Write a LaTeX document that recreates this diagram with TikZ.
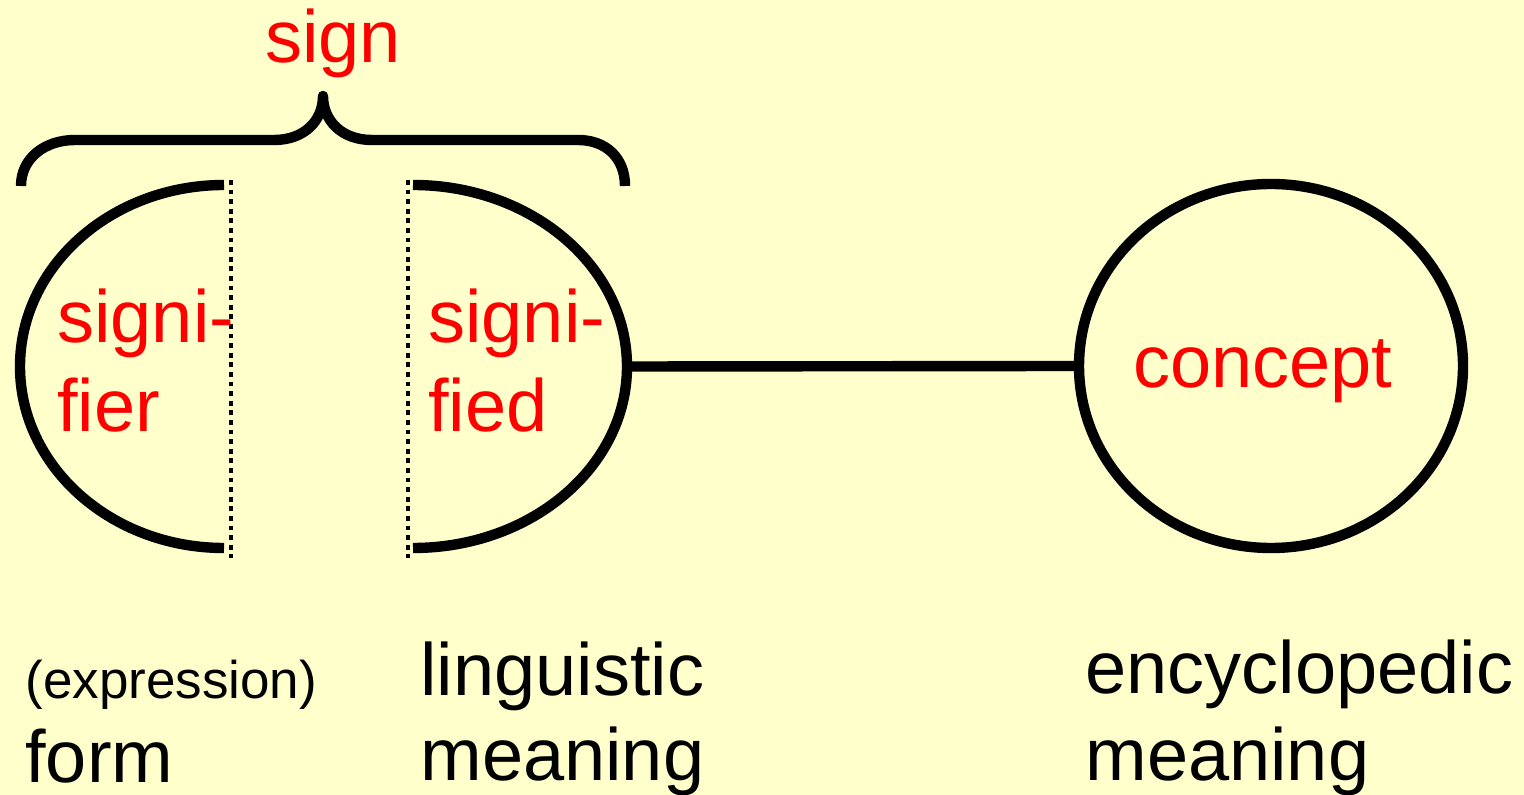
\documentclass[tikz,border=0pt]{standalone}
\usepackage{fontspec}
\setmainfont{Liberation Sans}
\usetikzlibrary{shapes.geometric}
\definecolor{bgyellow}{RGB}{255,255,204}
\begin{document}
\begin{tikzpicture}[x=0.5pt,y=-0.5pt,
  thick line/.style={line width=5.2pt, line cap=butt, line join=round},
  dotline/.style={line width=2.4pt, dash pattern=on 2.4pt off 2.4pt},
  redlab/.style={text=red, font=\fontsize{37}{40}\selectfont, inner sep=0pt, anchor=base west},
  blacklab/.style={text=black, font=\fontsize{37}{40}\selectfont, inner sep=0pt, anchor=base west},
  smalllab/.style={text=black, font=\fontsize{26.5}{30}\selectfont, inner sep=0pt, anchor=base west}]
\fill[bgyellow] (0,0) rectangle (1524,795);
\useasboundingbox (0,0) rectangle (1524,795);
% brace
\draw[thick line] (21,186) .. controls (21,158) and (45,140) .. (75,140) -- (274,140)
  .. controls (305,140) and (323,120) .. (323,96)
  .. controls (323,120) and (341,140) .. (372,140) -- (578,140)
  .. controls (606,140) and (625,158) .. (625,186);
% signifier half
\coordinate (sfTop) at (224,185);
\draw[thick line] (sfTop) arc[start angle=90, end angle=270, x radius=102pt, y radius=90.75pt];
\draw[dotline] (231,180) -- (231,558);
% signified half
\coordinate (sdTop) at (413,185);
\coordinate (sdR) at (627,366.5);
\draw[thick line] (sdTop) arc[start angle=90, end angle=-90, x radius=107pt, y radius=90.75pt];
\draw[dotline] (408,180) -- (408,558);
% concept
\node[draw, ellipse, line width=5.2pt, minimum width=192pt, minimum height=182pt, inner sep=0pt] (concept) at (1271,366) {};
\draw[thick line] (sdR) -- (concept.west);
% labels
\node[redlab] (conceptText) at (1133,388) {concept};
\node[redlab] (sign) at (265,63) {sign};
\node[redlab] (signi1) at (57,343) {signi-};
\node[redlab] (fier) at (57,432) {fier};
\node[redlab] (signi2) at (428,343) {signi-};
\node[redlab] (fied) at (428,432) {fied};
\node[smalllab] (expr) at (25,698) {(expression)};
\node[blacklab] (form) at (25,782) {form};
\node[blacklab] (ling) at (420,695) {linguistic};
\node[blacklab] (mean1) at (420,780) {meaning};
\node[blacklab] (ency) at (1085,693) {encyclopedic};
\node[blacklab] (mean2) at (1085,780) {meaning};
\end{tikzpicture}
\end{document}
